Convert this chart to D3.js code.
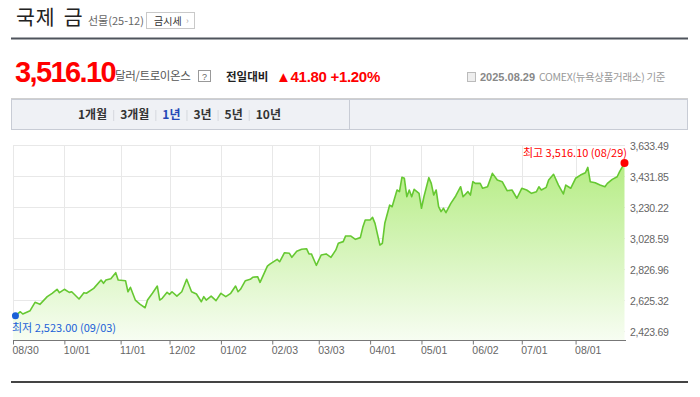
<!DOCTYPE html>
<html>
<head>
<meta charset="utf-8">
<script src="https://cdn.jsdelivr.net/npm/d3@7/dist/d3.min.js"></script>
<style>
  body { margin: 0; background: #fff; }
  svg { display: block; }
  text { font-family: "Noto Sans CJK KR", "Noto Sans", sans-serif; }
  .num { font-family: "Liberation Sans", Arial, sans-serif; }
</style>
</head>
<body>
<div id="vis"></div>
<script>
var WIDTH = 700
var HEIGHT = 397

// trading-day index (0 = 08/30/2024, 250 = 08/29/2025) and COMEX gold price
var session = [0, 1, 3, 4, 7, 9, 11, 14, 16, 18, 19, 21, 23, 24, 27, 29, 30, 33, 36, 37, 38, 40, 42, 43, 46, 47, 48, 50,
    52, 54, 55, 57, 59, 60, 61, 63, 64, 65, 67, 69, 71, 73, 75, 77, 78, 79, 81, 83, 85, 87, 89, 91, 92, 93, 95, 97, 98,
    100, 101, 104, 105, 108, 109, 111, 113, 114, 116, 118, 120, 121, 122, 124, 126, 128, 130, 132, 133, 135, 136, 138,
    140, 142, 143, 144, 146, 147, 148, 150, 151, 152, 154, 155, 157, 158, 159, 160, 161, 162, 163, 164, 166, 167, 168,
    170, 171, 172, 173, 174, 175, 176, 177, 179, 181, 183, 184, 186, 187, 188, 189, 191, 192, 194, 196, 198, 200, 202,
    204, 206, 208, 210, 212, 214, 215, 216, 218, 219, 221, 223, 225, 226, 228, 230, 232, 234, 235, 236, 238, 240, 242,
    243, 245, 247, 248, 250];
var price = [2534, 2523.00, 2549, 2534, 2556, 2610, 2597, 2647, 2669, 2695, 2673, 2695, 2675, 2679, 2632, 2673, 2669,
    2701, 2755, 2734, 2755, 2764, 2803, 2755, 2751, 2679, 2708, 2625, 2597, 2575, 2625, 2669, 2716, 2625, 2636, 2675,
    2662, 2679, 2651, 2679, 2760, 2679, 2664, 2614, 2647, 2625, 2651, 2621, 2669, 2647, 2669, 2716, 2679, 2695, 2751,
    2760, 2773, 2777, 2740, 2846, 2859, 2890, 2874, 2933, 2929, 2903, 2942, 2955, 2959, 2925, 2925, 2851, 2918, 2925,
    2903, 2951, 2994, 3005, 3042, 3042, 3020, 3031, 3098, 3146, 3146, 3163, 3124, 2983, 2994, 3124, 3243, 3232, 3341,
    3330, 3423, 3417, 3297, 3341, 3297, 3345, 3319, 3222, 3297, 3421, 3384, 3308, 3341, 3232, 3200, 3222, 3193, 3254,
    3302, 3362, 3297, 3330, 3308, 3395, 3384, 3384, 3352, 3362, 3449, 3406, 3395, 3336, 3341, 3287, 3352, 3341, 3319,
    3330, 3362, 3341, 3358, 3406, 3443, 3373, 3315, 3373, 3352, 3417, 3438, 3453, 3488, 3395, 3388, 3373, 3362, 3384,
    3410, 3427, 3460, 3516.10];

var xTickSession = [0, 21, 44, 64, 85, 106, 125, 146, 167, 188, 208, 230];
var xTickLabels = ['08/30', '10/01', '11/01', '12/02', '01/02', '02/03', '03/03', '04/01', '05/01', '06/02', '07/01', '08/01'];
var yTicks = [2423.69, 2625.32, 2826.96, 3028.59, 3230.22, 3431.85, 3633.49];

var periodLabels = ['1개월', '3개월', '1년', '3년', '5년', '10년'];
var activePeriod = '1년';

var maxLabel = '최고 3,516.10 (08/29)';
var minLabel = '최저 2,523.00 (09/03)';

var data = session.map((s, i) => ({ s: s, v: price[i] }));

const svg = d3.select('#vis').append('svg')
    .attr('width', WIDTH)
    .attr('height', HEIGHT);

// ---- header ----
svg.append('text').attr('x', 16).attr('y', 25)
    .attr('font-size', 20.5).attr('fill', '#222').attr('letter-spacing', 0.8).attr('word-spacing', 3)
    .text('국제 금');
svg.append('text').attr('x', 88).attr('y', 25)
    .attr('font-size', 11).attr('fill', '#666')
    .text('선물(25-12)');
svg.append('rect').attr('x', 146.5).attr('y', 12.5).attr('width', 48).attr('height', 16)
    .attr('fill', '#fff').attr('stroke', '#c9c9c9');
svg.append('text').attr('x', 154).attr('y', 24.5)
    .attr('font-size', 10).attr('fill', '#333').text('금시세');
svg.append('text').attr('x', 186).attr('y', 24)
    .attr('font-size', 9).attr('fill', '#aaa').text('›');

svg.append('rect').attr('x', 11).attr('y', 37.5).attr('width', 677).attr('height', 2)
    .attr('fill', '#4f545c');

// price row
svg.append('text').attr('class', 'num').attr('x', 15).attr('y', 82)
    .attr('font-size', 29).attr('font-weight', 'bold').attr('fill', '#f00')
    .attr('letter-spacing', -1.6)
    .text('3,516.10');
svg.append('text').attr('x', 115).attr('y', 80)
    .attr('font-size', 11.5).attr('fill', '#555').attr('letter-spacing', -0.4)
    .text('달러/트로이온스');
svg.append('rect').attr('x', 198.5).attr('y', 70.5).attr('width', 12).attr('height', 11)
    .attr('fill', '#fff').attr('stroke', '#999');
svg.append('text').attr('class', 'num').attr('x', 204.5).attr('y', 79.5).attr('text-anchor', 'middle')
    .attr('font-size', 9).attr('fill', '#666').text('?');
svg.append('text').attr('x', 226).attr('y', 80.5)
    .attr('font-size', 11.5).attr('font-weight', 'bold').attr('fill', '#222')
    .text('전일대비');
svg.append('text').attr('class', 'num').attr('x', 276).attr('y', 81.5)
    .attr('font-size', 15).attr('font-weight', 'bold').attr('fill', '#f00')
    .attr('letter-spacing', -0.3)
    .text('▲41.80  +1.20%');

// source / date
svg.append('rect').attr('x', 467.5).attr('y', 72.5).attr('width', 8).attr('height', 9)
    .attr('fill', '#eee').attr('stroke', '#bbb');
svg.append('text').attr('class', 'num').attr('x', 480).attr('y', 81)
    .attr('font-size', 11).attr('fill', '#888').attr('font-weight', 'bold')
    .text('2025.08.29');
svg.append('text').attr('x', 539).attr('y', 81)
    .attr('font-size', 10.5).attr('fill', '#999').attr('letter-spacing', -0.3)
    .text('COMEX(뉴욕상품거래소) 기준');

svg.append('rect').attr('x', 11).attr('y', 98).attr('width', 677).attr('height', 1)
    .attr('fill', '#d0d0d0');

// period tabs
svg.append('rect').attr('x', 11.5).attr('y', 99.5).attr('width', 676).attr('height', 30)
    .attr('fill', '#eff1f5').attr('stroke', '#c8ccd5');
svg.append('line').attr('x1', 349.5).attr('x2', 349.5).attr('y1', 100).attr('y2', 129)
    .attr('stroke', '#c8ccd5');

var tabX = 78;
periodLabels.forEach((p, i) => {
    var t = svg.append('text').attr('x', tabX).attr('y', 119)
        .attr('font-size', 12).attr('font-weight', 'bold')
        .attr('fill', p == activePeriod ? '#2348b6' : '#333')
        .text(p);
    var w = t.node().getComputedTextLength();
    tabX += w + 13;
    if (i < periodLabels.length - 1) {
        svg.append('line').attr('x1', tabX - 6.5).attr('x2', tabX - 6.5)
            .attr('y1', 110).attr('y2', 121).attr('stroke', '#d5d8de');
    }
});

// ---- chart ----
var x = d3.scaleLinear().domain([0, 250]).range([13, 624.5]);
var y = d3.scaleLinear().domain([2423.69, 3633.49]).range([331, 145]);
var axisY = 340;

var g = svg.append('g');

// grid
g.selectAll('line.hgrid')
    .data(yTicks)
    .enter()
    .append('line')
    .attr('class', 'hgrid')
    .attr('x1', 13).attr('x2', 625)
    .attr('y1', d => Math.round(y(d)) + 0.5).attr('y2', d => Math.round(y(d)) + 0.5)
    .attr('stroke', '#e8e8e8');
g.selectAll('line.vgrid')
    .data(xTickSession)
    .enter()
    .append('line')
    .attr('class', 'vgrid')
    .attr('x1', d => Math.round(x(d)) + 0.5).attr('x2', d => Math.round(x(d)) + 0.5)
    .attr('y1', 145).attr('y2', axisY)
    .attr('stroke', '#e8e8e8');

// gradient fill
var defs = svg.append('defs');
var grad = defs.append('linearGradient').attr('id', 'goldFill')
    .attr('gradientUnits', 'userSpaceOnUse')
    .attr('x1', 0).attr('x2', 0).attr('y1', 160).attr('y2', axisY);
grad.append('stop').attr('offset', 0).attr('stop-color', '#b4ec82');
grad.append('stop').attr('offset', 1).attr('stop-color', '#f7fdf2');

var area = d3.area()
    .x(d => x(d.s))
    .y0(axisY)
    .y1(d => y(d.v));
var line = d3.line()
    .x(d => x(d.s))
    .y(d => y(d.v));

g.append('path').datum(data)
    .attr('d', area)
    .attr('fill', 'url(#goldFill)');
g.append('path').datum(data)
    .attr('d', line)
    .attr('fill', 'none')
    .attr('stroke', '#66c832')
    .attr('stroke-width', 1.6)
    .attr('stroke-linejoin', 'round');

// x axis
var xAxis = d3.axisBottom(x)
    .tickValues(xTickSession)
    .tickFormat((d, i) => xTickLabels[i])
    .tickSize(4)
    .tickSizeOuter(0);
var gx = g.append('g')
    .attr('transform', 'translate(0,' + (axisY + 0.5) + ')')
    .call(xAxis);
gx.select('.domain').attr('stroke', '#777').attr('d', 'M13,0H626');
gx.selectAll('.tick line').attr('stroke', '#777');
gx.selectAll('.tick text')
    .attr('class', 'num')
    .attr('text-anchor', 'start')
    .attr('dx', -1)
    .attr('y', 6)
    .attr('font-size', 10.5)
    .attr('fill', '#666');

// y axis (right)
var yAxis = d3.axisRight(y)
    .tickValues(yTicks)
    .tickFormat(d3.format(',.2f'))
    .tickSize(0);
var gy = g.append('g')
    .attr('transform', 'translate(630,1)')
    .call(yAxis);
gy.select('.domain').remove();
gy.selectAll('.tick text')
    .attr('class', 'num')
    .attr('x', 0)
    .attr('font-size', 10.5)
    .attr('letter-spacing', -0.3)
    .attr('fill', '#666');

// max / min markers
var maxD = data.reduce((a, b) => b.v > a.v ? b : a);
var minD = data.reduce((a, b) => b.v < a.v ? b : a);

g.append('circle').attr('cx', x(maxD.s)).attr('cy', y(maxD.v)).attr('r', 4)
    .attr('fill', '#f00');
g.append('text').attr('x', 627).attr('y', y(maxD.v) - 6)
    .attr('text-anchor', 'end')
    .attr('font-size', 11).attr('fill', '#f00')
    .text(maxLabel);

g.append('circle').attr('cx', x(minD.s)).attr('cy', y(minD.v)).attr('r', 3.5)
    .attr('fill', '#1b60d8');
g.append('text').attr('x', 12).attr('y', y(minD.v) + 16)
    .attr('font-size', 11).attr('fill', '#1b60d8')
    .text(minLabel);

// bottom rule
svg.append('rect').attr('x', 11).attr('y', 381).attr('width', 677).attr('height', 2)
    .attr('fill', '#444');
</script>
</body>
</html>
